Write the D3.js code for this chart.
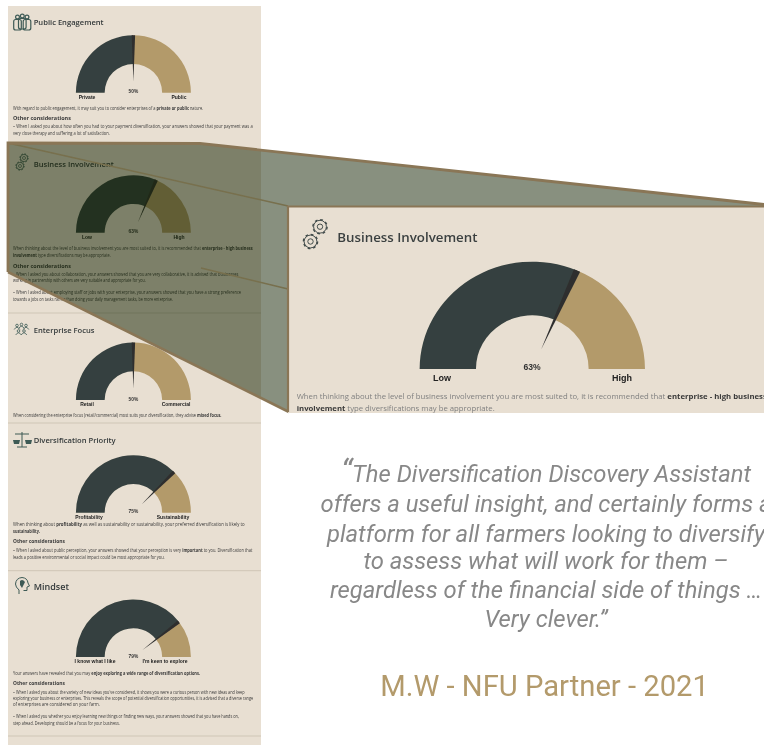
<!DOCTYPE html>
<html>
<head>
<meta charset="utf-8">
<script src="https://cdn.jsdelivr.net/npm/d3@7"></script>
<style>
  html, body { margin: 0; background: #fff; }
  svg { display: block; }
</style>
</head>
<body>
<svg id="chart" width="764" height="745"></svg>
<script>
// Report sections: gauge readings and the labels either side of each dial
const sectionTitles = ["Public Engagement", "Business Involvement", "Enterprise Focus", "Diversification Priority", "Mindset"];
const gaugeValues = [50, 63, 50, 75, 79];
const gaugeCaptions = ["50%", "63%", "50%", "75%", "79%"];
const leftLabels = ["Private", "Low", "Retail", "Profitability", "I know what I like"];
const rightLabels = ["Public", "High", "Commercial", "Sustainability", "I'm keen to explore"];

// Body copy per section; asterisks mark the bold stretches
const bodyCopy = [
  ["With regard to public engagement, it may suit you to consider enterprises of a *private or public* nature.",
   "*Other considerations*",
   "–     When I asked you about how often you had to your payment diversification, your answers showed that your payment was a",
   "very close therapy and suffering a lot of satisfaction."],
  ["When thinking about the level of business involvement you are most suited to, it is recommended that *enterprise - high business*",
   "*involvement* type diversifications may be appropriate.",
   "*Other considerations*",
   "–     When I asked you about collaboration, your answers showed that you are very collaborative, it is advised that businesses",
   "working in partnership with others are very suitable and appropriate for you.",
   "–     When I asked about employing staff or jobs with your enterprise, your answers showed that you have a strong preference",
   "towards a jobs on tasks rather than doing your daily management tasks, be more enterprise."],
  ["When considering the enterprise focus (retail/commercial) most suits your diversification, they advise *mixed focus.*"],
  ["When thinking about *profitability* as well as sustainability or sustainability, your preferred diversification is likely to",
   "*sustainability.*",
   "*Other considerations*",
   "–     When I asked about public perception, your answers showed that your perception is very *important* to you. Diversification that",
   "leads a positive environmental or social impact could be most appropriate for you."],
  ["Your answers have revealed that you may *enjoy exploring a wide range of diversification options.*",
   "*Other considerations*",
   "–     When I asked you about the variety of new ideas you've considered, it shows you were a curious person with new ideas and keep",
   "exploring your business or enterprises. This reveals the scope of potential diversification opportunities, it is advised that a diverse range",
   "of enterprises are considered on your farm.",
   "–     When I asked you whether you enjoy learning new things or finding new ways, your answers showed that you have hands on,",
   "step ahead. Developing should be a focus for your business."]
];

const quoteLines = ["The Diversification Discovery Assistant", "offers a useful insight, and certainly forms a", "platform for all farmers looking to diversify",
  "to assess what will work for them –", "regardless of the financial side of things …", "Very clever.”"];
const quoteCredit = "M.W - NFU Partner - 2021";
const insetBody = ["When thinking about the level of business involvement you are most suited to, it is recommended that *enterprise - high business*",
  "*involvement* type diversifications may be appropriate."];

// Page layout
const DARK = "#36413f", TAN = "#b39a6b", NEEDLE = "#2e2e2e", PAPER = "#e8dfd2", BROWN = "#8a7656";
const layout = [
  { cy: 92.7,  titleY: 25,    titleSize: 7.6, labelX: [87, 179], lines: [[110, 191], [120, 58], [128, 240], [135, 97]] },
  { cy: 232.7, titleY: 166.5, titleSize: 7.6, labelX: [87, 179], lines: [[250.3, 240], [257, 98], [267.7, 58], [276, 226], [282, 133], [294, 228], [301, 160]] },
  { cy: 400,   titleY: 333,   titleSize: 7.6, labelX: [87, 176], lines: [[417, 209]] },
  { cy: 512.7, titleY: 443,   titleSize: 7.6, labelX: [89, 173], lines: [[526.3, 232], [533, 27], [543, 52], [552, 240], [558.7, 152]] },
  { cy: 657,   titleY: 590,   titleSize: 9,   labelX: [95, 165], lines: [[674.7, 187], [685.3, 52], [694, 232], [700, 240], [706, 87], [718, 227], [724.7, 107]] }
];
const separators = [313, 423, 570.7, 736];

const svg = d3.select("#chart");
const defs = svg.append("defs");
defs.append("filter").attr("id", "soft").attr("x", "-5%").attr("y", "-5%").attr("width", "110%").attr("height", "110%")
  .append("feGaussianBlur").attr("stdDeviation", 0.6);
defs.append("filter").attr("id", "softer").attr("x", "-5%").attr("y", "-5%").attr("width", "110%").attr("height", "110%")
  .append("feGaussianBlur").attr("stdDeviation", 0.4);
defs.append("clipPath").attr("id", "insetClip").append("rect")
  .attr("x", 288).attr("y", 206).attr("width", 476).attr("height", 207);

// Scale from a 0–100 reading to the sweep of the half dial
const sweep = d3.scaleLinear().domain([0, 100]).range([-Math.PI / 2, Math.PI / 2]);

function drawGauge(parent, value, cx, cy, sx, R) {
  const g = parent.append("g").attr("transform", `translate(${cx},${cy}) scale(${sx},1)`);
  const arc = d3.arc().innerRadius(R * 0.5).outerRadius(R);
  g.append("path").attr("fill", DARK).attr("d", arc({ startAngle: sweep(0), endAngle: sweep(value) }));
  g.append("path").attr("fill", TAN).attr("d", arc({ startAngle: sweep(value), endAngle: sweep(100) }));
  // Needle tapers from a point near the hub out to the rim of the dial
  const a = sweep(value), spread = 0.03;
  const pts = [d3.pointRadial(a, R * 0.2), d3.pointRadial(a - spread, R), d3.pointRadial(a + spread, R)];
  g.append("path").attr("fill", NEEDLE).attr("d", "M" + pts.join("L") + "Z");
}

function writeRuns(textSel, line) {
  line.split("*").forEach((run, i) => {
    if (run) textSel.append("tspan").attr("font-weight", i % 2 ? 700 : 400).text(run);
  });
}

function drawGear(parent, x, y, r, color, sw) {
  const g = parent.append("g").attr("fill", "none").attr("stroke", color);
  const teeth = 2 * Math.PI * (r + sw * 0.5) / 16;
  g.append("circle").attr("cx", x).attr("cy", y).attr("r", r + sw * 0.5).attr("stroke-width", sw).attr("stroke-dasharray", teeth + " " + teeth);
  g.append("circle").attr("cx", x).attr("cy", y).attr("r", r).attr("stroke-width", sw * 0.7);
  g.append("circle").attr("cx", x).attr("cy", y).attr("r", r * 0.42).attr("stroke-width", sw * 0.7);
}

// Section icons, all line art in the dial's dark teal
const iconColor = "#3d5a55";
function drawPeople(g) {
  const s = g.append("g").attr("fill", "none").attr("stroke", iconColor).attr("stroke-width", 1.2);
  [[17.5, 17], [27, 17], [22.3, 16]].forEach(([x, y]) => {
    s.append("circle").attr("cx", x).attr("cy", y).attr("r", 1.9);
    s.append("rect").attr("x", x - 3.8).attr("y", y + 2.5).attr("width", 7.6).attr("height", 10.5).attr("rx", 2);
  });
}
function drawGroup(g) {
  const s = g.append("g").attr("fill", "none").attr("stroke", iconColor).attr("stroke-width", 0.8);
  [[17, 325.5], [21.5, 324.5], [26, 325.5], [18.5, 331], [24, 331]].forEach(([x, y]) => {
    s.append("circle").attr("cx", x).attr("cy", y).attr("r", 1.3);
    s.append("path").attr("d", `M${x - 2.8},${y + 4}Q${x},${y - 0.5} ${x + 2.8},${y + 4}`);
  });
}
function drawScales(g) {
  const s = g.append("g").attr("stroke", iconColor).attr("stroke-width", 1).attr("fill", iconColor);
  s.append("path").attr("fill", "none").attr("d", "M22,432V447M17,447H27M15,434H29");
  s.append("path").attr("stroke", "none").attr("d", "M13,440H20L19,444H14Z M25,440H32L31,444H26Z");
}
function drawHead(g) {
  const s = g.append("g").attr("fill", "none").attr("stroke", iconColor).attr("stroke-width", 1);
  s.append("path").attr("d", "M19,594V590Q15.5,587 15.5,584Q16,578 22,577.5Q27.5,578 28,583L29.5,586L27,587V590.5H23.5");
  s.append("path").attr("fill", iconColor).attr("stroke", "none").attr("d", "M20,581Q22.5,578.5 25,582L22,588L20,585Z");
}

// Left-hand report page
const page = svg.append("g");
page.append("rect").attr("x", 8).attr("y", 6).attr("width", 253).attr("height", 739).attr("fill", PAPER);
const soft = page.append("g").attr("filter", "url(#soft)");

separators.forEach(y => soft.append("line").attr("x1", 8).attr("x2", 261).attr("y1", y).attr("y2", y)
  .attr("stroke", "#cfc6b6").attr("stroke-width", 1));

gaugeValues.forEach((value, i) => {
  const L = layout[i];
  drawGauge(soft, value, 133.4, L.cy, 1, 57.5);
  soft.append("text").attr("x", 33.7).attr("y", L.titleY).attr("font-family", "'Open Sans'").attr("font-weight", 600)
    .attr("font-size", L.titleSize).attr("fill", "#33393a").text(sectionTitles[i]);
  soft.append("text").attr("x", 133.4).attr("y", L.cy + 0.5).attr("text-anchor", "middle").attr("font-family", "'Liberation Sans'")
    .attr("font-weight", 700).attr("font-size", 4.8).attr("fill", "#333").text(gaugeCaptions[i]);
  soft.append("text").attr("x", L.labelX[0]).attr("y", L.cy + 6.2).attr("text-anchor", "middle").attr("font-family", "'Liberation Sans'")
    .attr("font-weight", 700).attr("font-size", 5).attr("fill", "#222").text(leftLabels[i]);
  soft.append("text").attr("x", L.labelX[1]).attr("y", L.cy + 6.2).attr("text-anchor", "middle").attr("font-family", "'Liberation Sans'")
    .attr("font-weight", 700).attr("font-size", 5).attr("fill", "#222").text(rightLabels[i]);
  bodyCopy[i].forEach((line, j) => {
    const t = soft.append("text").attr("font-family", "'Open Sans'").attr("font-size", 4.6).attr("fill", "#3a3a3a");
    writeRuns(t, line);
    // Squeeze or stretch the whole line so each one ends where the page's copy does
    const k = L.lines[j][1] / t.node().getComputedTextLength();
    t.attr("transform", `translate(13,${L.lines[j][0]}) scale(${k},1)`);
  });
});

drawPeople(soft);
drawGear(soft, 24, 158, 3.6, iconColor, 1);
drawGear(soft, 20, 166, 3.6, iconColor, 1);
drawGroup(soft);
drawScales(soft);
drawHead(soft);

// Magnifying wedge linking the page to the enlarged panel
const wedge = [[8, 143], [200, 143.5], [764, 205], [764, 207], [288, 207], [288, 412], [8, 272]];
svg.append("path").attr("d", d3.line()(wedge) + "Z").attr("fill", "rgb(18,34,0)").attr("fill-opacity", 0.5);
svg.append("path").attr("d", d3.line()([[8, 143], [288, 206]])).attr("stroke", "#78704d").attr("stroke-width", 1.6).attr("fill", "none");
svg.append("path").attr("d", d3.line()([[201, 268], [288, 289]])).attr("stroke", "#78704d").attr("stroke-width", 1.6).attr("fill", "none");
svg.append("path").attr("d", d3.line()([[8, 272], [8, 143], [200, 143.5], [764, 204.5]])).attr("stroke", BROWN).attr("stroke-width", 2.8).attr("fill", "none");
svg.append("path").attr("d", d3.line()([[8, 272], [289, 412]])).attr("stroke", BROWN).attr("stroke-width", 2.6).attr("fill", "none");

// Enlarged Business Involvement panel
const inset = svg.append("g").attr("clip-path", "url(#insetClip)");
inset.append("rect").attr("x", 288).attr("y", 206).attr("width", 476).attr("height", 207).attr("fill", PAPER);
const insetSoft = inset.append("g").attr("filter", "url(#softer)");
drawGauge(insetSoft, gaugeValues[1], 532.3, 369, 1.05, 107.3);
drawGear(insetSoft, 320, 226.7, 6.4, "#3f4a49", 1.4);
drawGear(insetSoft, 310.5, 241.5, 6.4, "#3f4a49", 1.4);
insetSoft.append("text").attr("x", 337.3).attr("y", 241.7).attr("font-family", "'Open Sans'").attr("font-weight", 600)
  .attr("font-size", 13.3).attr("fill", "#3b4141").text(sectionTitles[1]);
insetSoft.append("text").attr("x", 532).attr("y", 369.5).attr("text-anchor", "middle").attr("font-family", "'Liberation Sans'")
  .attr("font-weight", 700).attr("font-size", 8.6).attr("fill", "#333").text(gaugeCaptions[1]);
insetSoft.append("text").attr("x", 442).attr("y", 380.7).attr("text-anchor", "middle").attr("font-family", "'Liberation Sans'")
  .attr("font-weight", 700).attr("font-size", 9).attr("fill", "#222").text(leftLabels[1]);
insetSoft.append("text").attr("x", 622).attr("y", 380.7).attr("text-anchor", "middle").attr("font-family", "'Liberation Sans'")
  .attr("font-weight", 700).attr("font-size", 9).attr("fill", "#222").text(rightLabels[1]);
insetBody.forEach((line, i) => {
  const t = insetSoft.append("text").attr("x", 296.7).attr("y", [399, 411][i]).attr("font-family", "'Open Sans'")
    .attr("font-size", 7.75).attr("fill", "#808080");
  writeRuns(t, line);
  t.selectAll("tspan").filter(function () { return d3.select(this).attr("font-weight") === "700"; }).attr("fill", "#3a3a3a");
});
// Frame lines on the panel's top and left edges
svg.append("path").attr("d", d3.line()([[764, 206.5], [288, 206.5], [288, 412]])).attr("stroke", BROWN).attr("stroke-width", 2.2).attr("fill", "none");

// Testimonial
const quote = svg.append("g").attr("font-family", "Roboto").attr("font-style", "italic").attr("font-size", 23.8)
  .attr("fill", "#888").attr("text-anchor", "middle");
const baselines = [481.7, 511.7, 541.7, 569.3, 598.3, 627.3];
quoteLines.forEach((line, i) => {
  const t = quote.append("text").attr("x", 546).attr("y", baselines[i]);
  if (i === 0) t.append("tspan").attr("font-size", 32).text("“");
  t.append("tspan").text(line);
});
svg.append("text").attr("x", 544.6).attr("y", 696).attr("text-anchor", "middle").attr("font-family", "Roboto")
  .attr("font-size", 29.2).attr("fill", TAN).text(quoteCredit);
</script>
</body>
</html>
